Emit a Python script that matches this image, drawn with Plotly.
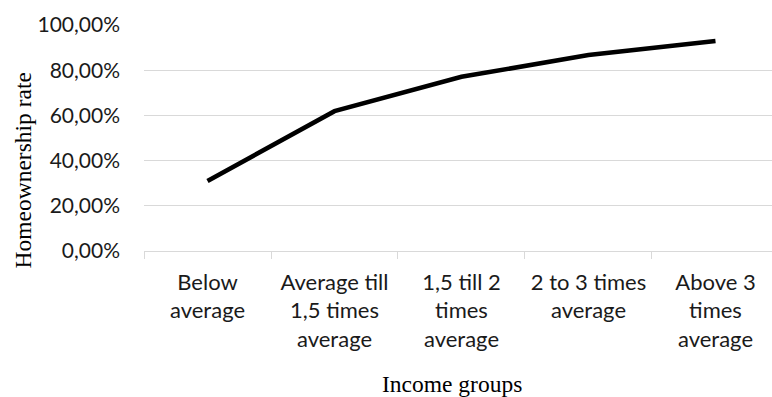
import plotly.graph_objects as go

categories = ["Below<br>average", "Average till<br>1,5 times<br>average", "1,5 till 2<br>times<br>average",
              "2 to 3 times<br>average", "Above 3<br>times<br>average"]
rates = [0.310, 0.619, 0.771, 0.867, 0.929]
y_ticks = [0, 0.2, 0.4, 0.6, 0.8, 1.0]

W, H = 772, 397
L, T, B = 144, 25, 146

fig = go.Figure()
fig.add_trace(go.Scatter(x=categories, y=rates, mode="lines",
                         line=dict(color="#000000", width=4.6), hoverinfo="skip"))

fig.update_layout(
    width=W, height=H,
    margin=dict(l=L, r=0, t=T, b=B),
    paper_bgcolor="white", plot_bgcolor="white",
    separators=", ",
    showlegend=False,
    font=dict(family="Lato", size=21, color="#1a1a1a"),
)
fig.update_xaxes(
    type="category", tickson="boundaries",
    range=[-0.5, 4.445], showgrid=False, zeroline=False,
    showline=True, linecolor="#d9d9d9", linewidth=1.3,
    ticks="outside", ticklen=7, tickcolor="#d9d9d9", tickwidth=1.3,
    ticklabelstandoff=11,
    tickfont=dict(family="Lato", size=22, color="#1a1a1a"),
)
fig.update_yaxes(
    range=[0, 1], tickvals=y_ticks, tickformat=".2%",
    showgrid=True, gridcolor="#d9d9d9", gridwidth=1.3, zeroline=False,
    showline=False, ticks="", ticklabelstandoff=23,
    tickfont=dict(family="Lato", size=21, color="#1a1a1a"),
)
fig.add_annotation(text="Homeownership rate", xref="paper", yref="paper",
                   x=-(L - 22) / (W - L), y=0.5, textangle=-90, showarrow=False,
                   font=dict(family="Liberation Serif", size=23.5, color="#000000"),
                   xanchor="center", yanchor="middle", yshift=-(170.5 - (T + 113)))
fig.add_annotation(text="Income groups", xref="paper", yref="paper",
                   x=(452 - L) / (W - L), y=0, yshift=-(384 - 251), showarrow=False,
                   font=dict(family="Liberation Serif", size=23.5, color="#000000"),
                   xanchor="center", yanchor="middle")

fig.write_html("out.html")
